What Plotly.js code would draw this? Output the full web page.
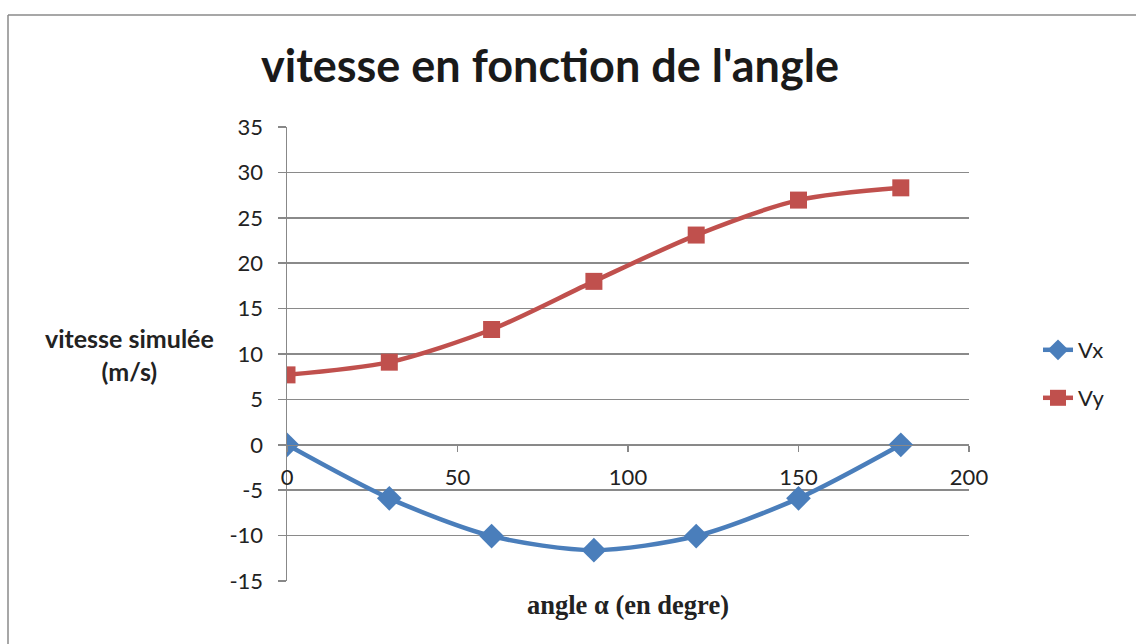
<!DOCTYPE html>
<html>
<head>
<meta charset="utf-8">
<script src="https://cdn.plot.ly/plotly-3.0.1.min.js"></script>
<style>html,body{margin:0;padding:0;background:#fff;}#chart{width:1136px;height:644px;}</style>
</head>
<body>
<div id="chart"></div>
<script>
var angles = [0, 30, 60, 90, 120, 150, 180];
var vx = [0, -5.9, -10.05, -11.6, -10.05, -5.9, 0];
var vy = [7.7, 9.1, 12.7, 18.0, 23.1, 26.95, 28.3];
var seriesNames = ["Vx", "Vy"];
var xTicks = [0, 50, 100, 150, 200];
var xTickText = ["0", "50", "100", "150", "200"];
var yTicks = [-15, -10, -5, 0, 5, 10, 15, 20, 25, 30, 35];
var yTickText = ["-15", "-10", "-5", "0", "5", "10", "15", "20", "25", "30", "35"];

var font = "Lato, 'Open Sans', sans-serif";
var data = [
  {x: angles, y: vx, name: seriesNames[0], type: "scatter", mode: "lines+markers",
   line: {color: "#4A7EBB", width: 4.5, shape: "spline", smoothing: 0.8},
   marker: {symbol: "diamond", size: 19, color: "#4A7EBB"}, legend: "legend"},
  {x: angles, y: vy, name: seriesNames[1], type: "scatter", mode: "lines+markers",
   line: {color: "#C0504D", width: 4.5, shape: "spline", smoothing: 0.8},
   marker: {symbol: "square", size: 17, color: "#C0504D"}, legend: "legend2"}
];

var layout = {
  width: 1136, height: 644,
  margin: {l: 287, r: 167, t: 127, b: 63},
  paper_bgcolor: "#fff", plot_bgcolor: "#fff",
  font: {family: font, color: "#222", size: 21},
  title: {text: "<b>vitesse en fonction de l'angle</b>", font: {family: font, size: 45, color: "#1a1a1a"},
          x: 550 / 1136, xanchor: "center", y: 1 - 66 / 644, yanchor: "middle", xref: "container", yref: "container"},
  xaxis: {range: [0, 200], tickvals: xTicks, ticktext: xTickText, showgrid: false, zeroline: false,
          anchor: "free", position: 0.3, showline: true, linecolor: "#888", linewidth: 1.5,
          ticks: "outside", ticklen: 6, tickcolor: "#888", tickwidth: 1.5, ticklabelstandoff: 6,
          tickfont: {size: 22, color: "#222", family: font}, fixedrange: true},
  yaxis: {range: [-15, 35], tickvals: yTicks, ticktext: yTickText, showgrid: true, gridcolor: "#8a8a8a", gridwidth: 1.5,
          zeroline: false, showline: true, linecolor: "#888", linewidth: 1.5,
          ticks: "outside", ticklen: 8, tickcolor: "#888", tickwidth: 1.5, ticklabelstandoff: 10,
          tickfont: {size: 22, color: "#222", family: font}, fixedrange: true},
  showlegend: true,
  legend: {x: (1038 - 287) / 682, y: (581 - 350) / 454, xref: "paper", yref: "paper", xanchor: "left", yanchor: "middle",
           font: {size: 22, family: font, color: "#222"}, bgcolor: "rgba(0,0,0,0)", itemwidth: 30},
  legend2: {x: (1038 - 287) / 682, y: (581 - 398) / 454, xref: "paper", yref: "paper", xanchor: "left", yanchor: "middle",
           font: {size: 22, family: font, color: "#222"}, bgcolor: "rgba(0,0,0,0)", itemwidth: 30},
  annotations: [
    {text: "<b>vitesse simulée<br>(m/s)</b>", xref: "paper", yref: "paper",
     x: (129 - 287) / 682, y: (581 - 354) / 454, xanchor: "center", yanchor: "middle",
     showarrow: false, align: "center", font: {size: 25, family: font, color: "#222"}},
    {text: "<b>angle α (en degre)</b>", xref: "paper", yref: "paper",
     x: (628 - 287) / 682, y: (581 - 605) / 454, xanchor: "center", yanchor: "middle",
     showarrow: false, font: {size: 26.5, family: "'Liberation Serif', 'Times New Roman', serif", color: "#222"}}
  ],
  shapes: [
    {type: "line", xref: "paper", yref: "paper", x0: (8 - 287) / 682, x1: (1140 - 287) / 682,
     y0: (581 - 15) / 454, y1: (581 - 15) / 454, line: {color: "#8a8a8a", width: 1.5}},
    {type: "line", xref: "paper", yref: "paper", x0: (8 - 287) / 682, x1: (8 - 287) / 682,
     y0: (581 - 15) / 454, y1: (581 - 650) / 454, line: {color: "#8a8a8a", width: 1.5}}
  ]
};

Plotly.newPlot("chart", data, layout, {displayModeBar: false, staticPlot: true});
</script>
</body>
</html>
